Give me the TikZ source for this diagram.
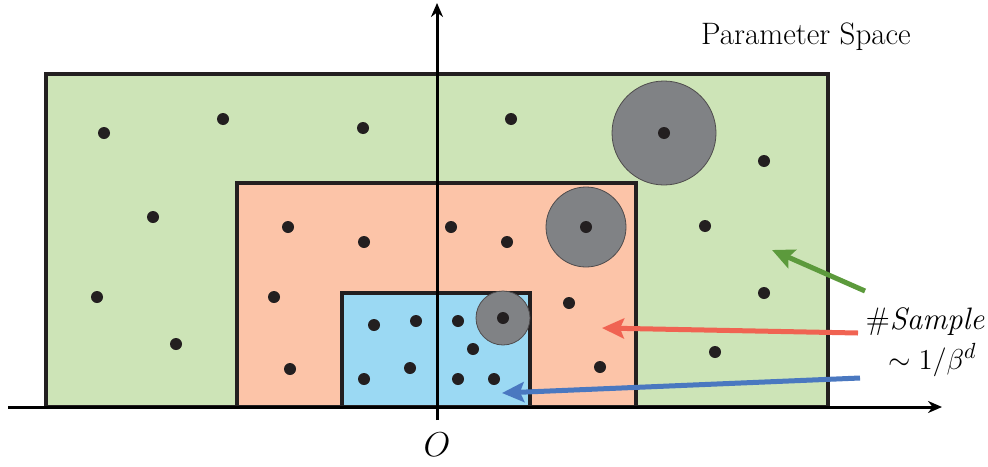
\documentclass[tikz,border=0pt]{standalone}
\usetikzlibrary{arrows.meta}
\definecolor{gfill}{HTML}{CDE4B7}
\definecolor{sfill}{HTML}{FCC4A8}
\definecolor{bfill}{HTML}{9BD9F3}
\definecolor{cgray}{HTML}{808285}
\definecolor{dotc}{HTML}{231F20}
\definecolor{garr}{HTML}{5C9A3C}
\definecolor{rarr}{HTML}{F06352}
\definecolor{barr}{HTML}{4A78C0}
\tikzset{
  region/.style={draw=dotc, line width=2.2pt},
  sdot/.style={circle, fill=dotc, inner sep=0pt, minimum size=6pt},
  ball/.style={circle, fill=cgray, draw=dotc!80, line width=0.4pt, inner sep=0pt},
  axisline/.style={line width=1.5pt, -{Stealth[length=7pt,width=6pt]}},
  pointer/.style={line width=2.5pt, -{Stealth[length=11pt,width=10pt,inset=2pt]}},
  lbl/.style={font=\fontsize{15.5}{18}\selectfont, inner sep=0pt},
  biglbl/.style={font=\fontsize{17}{20}\selectfont, inner sep=0pt}
}
\begin{document}
\begin{tikzpicture}[x=0.5pt,y=-0.5pt]
\useasboundingbox (0,0) rectangle (988,466);
% regions
\draw[region, fill=gfill] (46,74) rectangle (828,407);
\draw[region, fill=sfill] (237,183) rectangle (636,407);
\draw[region, fill=bfill] (342,293) rectangle (530,407);
% balls
\node[ball, minimum size=52pt] (b1) at (664,133) {};
\node[ball, minimum size=40pt] (b2) at (586,227) {};
\node[ball, minimum size=27pt] (b3) at (503,318) {};
% green dots
\foreach \n/\p in {g1/{(104,133)}, g2/{(223,119)}, g3/{(363,128)}, g4/{(511,119)}, g5/{(764,161)}, g6/{(153,217)}, g7/{(97,297)}, g8/{(176,344)}, g9/{(705,226)}, g10/{(764,293)}, g11/{(715,352)}, g12/{(664,133)}}
  \node[sdot] (\n) at \p {};
% salmon dots
\foreach \n/\p in {s1/{(288,227)}, s2/{(364,242)}, s3/{(451,227)}, s4/{(507,242)}, s5/{(274,297)}, s6/{(569,303)}, s7/{(290,369)}, s8/{(600,367)}, s9/{(586,227)}}
  \node[sdot] (\n) at \p {};
% blue dots
\foreach \n/\p in {c1/{(374,325)}, c2/{(416,321)}, c3/{(458,321)}, c4/{(503,318)}, c5/{(473,349)}, c6/{(364,379)}, c7/{(410,368)}, c8/{(458,379)}, c9/{(494,379)}}
  \node[sdot] (\n) at \p {};
% axes
\coordinate (xs) at (8,407);
\coordinate (xe) at (942,407);
\coordinate (ys) at (437,420);
\coordinate (ye) at (437,3);
\draw[axisline] (xs) -- (xe);
\draw[axisline] (ys) -- (ye);
\node[biglbl] (O) at (437,445) {$O$};
\node[lbl] (ps) at (806,37) {Parameter Space};
\node[lbl, anchor=east] (samp) at (985,322) {\#\textit{Sample}};
\node[lbl, anchor=east] (rate) at (977,360) {$\sim 1/\beta^{d}$};
% pointers
\coordinate (gt) at (865,291);
\coordinate (gh) at (772,250);
\coordinate (rt) at (858,333);
\coordinate (rh) at (602,328);
\coordinate (bt) at (860,378);
\coordinate (bh) at (502,393);
\draw[pointer, garr] (gt) -- (gh);
\draw[pointer, rarr] (rt) -- (rh);
\draw[pointer, barr] (bt) -- (bh);
\end{tikzpicture}
\end{document}
